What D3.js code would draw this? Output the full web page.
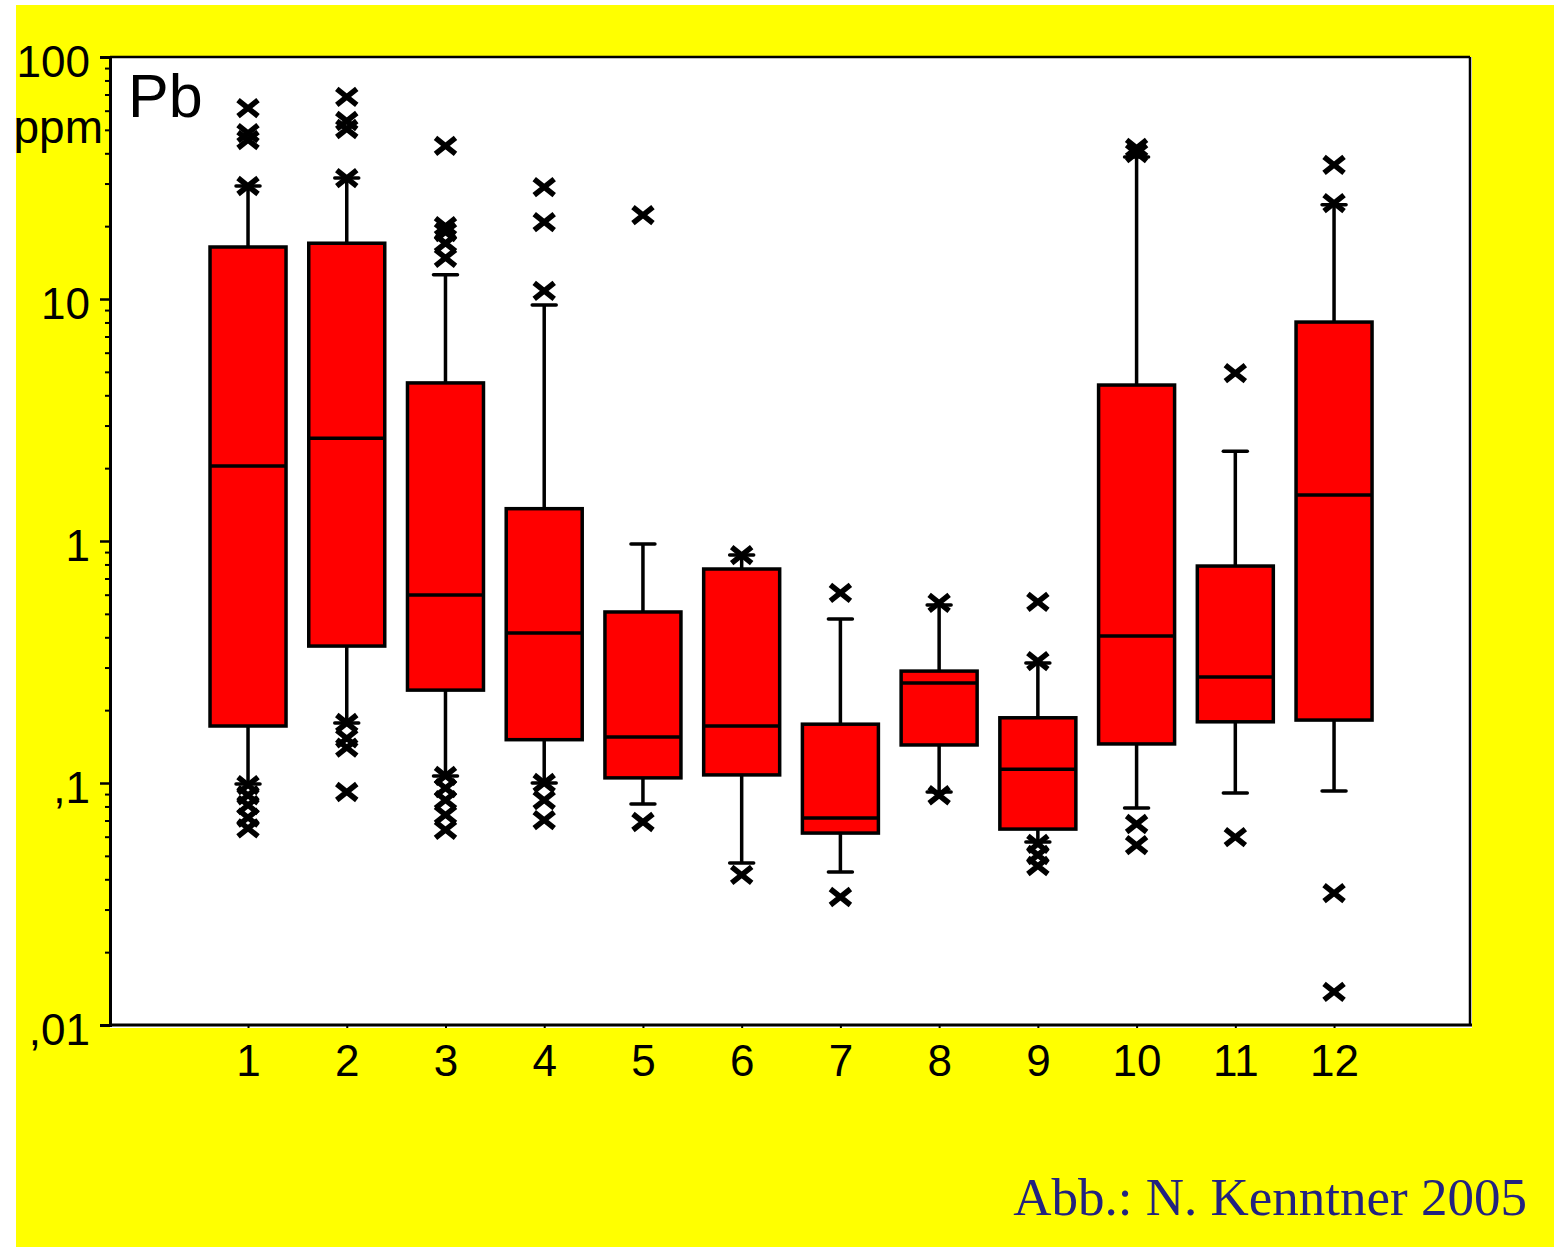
<!DOCTYPE html>
<html>
<head>
<meta charset="utf-8">
<script src="https://cdn.jsdelivr.net/npm/d3@7"></script>
<style>
  body { margin: 0; background: #fff; }
  .tick_text { font-family: "Liberation Sans", Arial, sans-serif; font-size: 44px; fill: #000; }
</style>
</head>
<body>
<svg id="chart" width="1554" height="1247"></svg>
<script>
// Pb-Gehalte je Gruppe (Boxplot, log-Skala)
const categories = ["1", "2", "3", "4", "5", "6", "7", "8", "9", "10", "11", "12"];
const q1 =       [0.172, 0.368, 0.242, 0.151, 0.105, 0.108, 0.0621, 0.1436, 0.0645, 0.145, 0.179, 0.182];
const medians =  [2.04, 2.66, 0.598, 0.417, 0.155, 0.172, 0.0717, 0.259, 0.114, 0.405, 0.274, 1.55];
const q3 =       [16.4, 17.0, 4.5, 1.36, 0.509, 0.766, 0.175, 0.29, 0.186, 4.41, 0.788, 8.03];
const whisker_lo = [0.099, 0.177, 0.107, 0.1, 0.0819, 0.0467, 0.0429, 0.0918, 0.057, 0.0788, 0.0909, 0.0927];
const whisker_hi = [29.3, 31.6, 12.6, 9.44, 0.972, 0.875, 0.476, 0.544, 0.313, 38.6, 2.35, 24.5];
const outliers = [
    [61.5, 48.5, 45.4, 29.3, 0.098, 0.089, 0.081, 0.072, 0.065],
    [68.4, 54.4, 50.4, 31.6, 0.177, 0.153, 0.140, 0.0918],
    [42.9, 20.0, 18.9, 17.0, 14.8, 0.107, 0.0953, 0.085, 0.0738, 0.064],
    [29.0, 20.8, 10.8, 0.1, 0.085, 0.0703],
    [22.2, 0.069],
    [0.875, 0.0417],
    [0.61, 0.0338],
    [0.555, 0.089],
    [0.56, 0.319, 0.056, 0.0504, 0.0454],
    [42.1, 40.1, 0.0677, 0.0554],
    [4.94, 0.0598],
    [35.8, 24.9, 0.0351, 0.0137]
];
const y_major = [0.01, 0.1, 1, 10, 100];
const y_labels = [",01", ",1", "1", "10", "100"];

const svg = d3.select('#chart');
const plot = {left: 110, right: 1470, top: 57, bottom: 1025};

// 背景
svg.append('rect').attr('x', 16).attr('y', 5).attr('width', 1538).attr('height', 1242).attr('fill', '#ffff00');
svg.append('rect')
    .attr('x', plot.left).attr('y', plot.top)
    .attr('width', plot.right - plot.left + 2).attr('height', plot.bottom - plot.top + 3)
    .attr('fill', '#fff');

const x = d3.scaleLinear().domain([-0.398, 13.377]).range([plot.left, plot.right]);
const y = d3.scaleLog().domain([0.01, 100]).range([plot.bottom, plot.top]);

// 枠線 (上・右)
svg.append('line').attr('x1', plot.left).attr('x2', plot.right).attr('y1', plot.top).attr('y2', plot.top)
    .attr('stroke', '#000').attr('stroke-width', 2.5);
svg.append('line').attr('x1', plot.right).attr('x2', plot.right).attr('y1', plot.top).attr('y2', plot.bottom)
    .attr('stroke', '#000').attr('stroke-width', 2.5);

// y軸 (minor ticks)
const minor = [];
y_major.slice(0, -1).forEach(d => { for (let k = 2; k <= 9; k++) minor.push(d * k); });
svg.append('g')
    .attr('transform', `translate(${plot.left},0)`)
    .call(d3.axisLeft(y).tickValues(minor).tickSize(5).tickFormat(''))
    .call(g => g.select('.domain').remove())
    .selectAll('line').attr('stroke', '#000').attr('stroke-width', 2);

// y軸 (major)
const y_axis = svg.append('g')
    .attr('transform', `translate(${plot.left},0)`)
    .call(d3.axisLeft(y).tickValues(y_major).tickSize(10).tickPadding(10)
        .tickFormat((d, i) => y_labels[i]));
y_axis.select('.domain').attr('stroke', '#000').attr('stroke-width', 3);
y_axis.selectAll('line').attr('stroke', '#000').attr('stroke-width', 2.5);
y_axis.selectAll('text').attr('class', 'tick_text').attr('font-size', null).attr('font-family', null)
    .attr('dy', '0.45em');

// ppm
svg.append('text').text('ppm')
    .attr('x', 103).attr('y', 143)
    .attr('text-anchor', 'end')
    .attr('class', 'tick_text')
    .style('font-size', '46px');

// x軸
const x_axis = svg.append('g')
    .attr('transform', `translate(0,${plot.bottom})`)
    .call(d3.axisBottom(x).tickValues(d3.range(1, 13)).tickSize(3).tickPadding(17)
        .tickFormat(d => categories[d - 1]));
x_axis.select('.domain').attr('d', `M${plot.left},0H${plot.right + 2}`).attr('stroke', '#000').attr('stroke-width', 3);
x_axis.selectAll('line').attr('stroke', '#000').attr('stroke-width', 2);
x_axis.selectAll('text').attr('class', 'tick_text').attr('font-size', null).attr('font-family', null)
    .attr('dy', '0.71em');

// Pb
svg.append('text').text('Pb')
    .attr('x', 128).attr('y', 117)
    .style('font-family', '"Liberation Sans", Arial, sans-serif')
    .style('font-size', '61px');

// 箱ひげ
const box_w = 76, cap_w = 24;
const g_box = svg.append('g');
categories.forEach((c, i) => {
    const cx = x(i + 1);
    const g = g_box.append('g');
    // ひげ
    g.append('line').attr('x1', cx).attr('x2', cx)
        .attr('y1', y(whisker_hi[i])).attr('y2', y(whisker_lo[i]))
        .attr('stroke', '#000').attr('stroke-width', 3.5);
    [whisker_hi[i], whisker_lo[i]].forEach(v => {
        g.append('line')
            .attr('x1', cx - cap_w / 2).attr('x2', cx + cap_w / 2)
            .attr('y1', y(v)).attr('y2', y(v))
            .attr('stroke', '#000').attr('stroke-width', 3.5).attr('stroke-linecap', 'round');
    });
    // 箱
    g.append('rect')
        .attr('x', cx - box_w / 2).attr('width', box_w)
        .attr('y', y(q3[i])).attr('height', y(q1[i]) - y(q3[i]))
        .attr('fill', '#ff0000').attr('stroke', '#000').attr('stroke-width', 3.5);
    // 中央値
    g.append('line')
        .attr('x1', cx - box_w / 2).attr('x2', cx + box_w / 2)
        .attr('y1', y(medians[i])).attr('y2', y(medians[i]))
        .attr('stroke', '#000').attr('stroke-width', 3.5);
    // 外れ値
    outliers[i].forEach(v => {
        const py = y(v);
        g.append('path')
            .attr('d', `M${cx - 10},${py - 8}L${cx + 10},${py + 8}M${cx - 10},${py + 8}L${cx + 10},${py - 8}`)
            .attr('stroke', '#000').attr('stroke-width', 5.5).attr('fill', 'none');
    });
});

// クレジット
svg.append('text').text('Abb.: N. Kenntner 2005')
    .attr('x', 1527).attr('y', 1215)
    .attr('text-anchor', 'end')
    .style('font-family', '"Liberation Serif", "Times New Roman", serif')
    .style('font-size', '53px')
    .style('fill', '#23237f');
</script>
</body>
</html>
